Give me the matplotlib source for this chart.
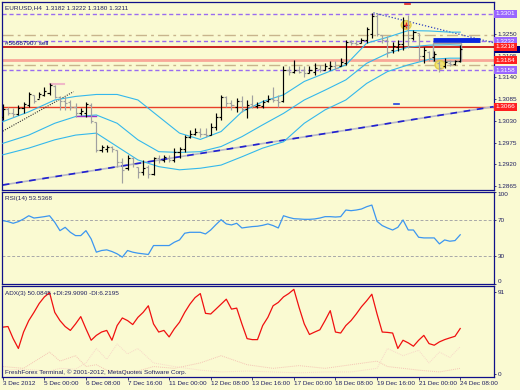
import matplotlib
matplotlib.use("Agg")
import matplotlib.pyplot as plt
from matplotlib.patches import Rectangle, Ellipse

plt.rcParams['font.family'] = ['Liberation Sans', 'DejaVu Sans']

# ---- data (EURUSD H4, 3 Dec 16:00 .. 24 Dec 08:00) ----
bar_open = [1.3040, 1.3060, 1.3050, 1.3048, 1.3062, 1.3070, 1.3095, 1.3085, 1.3096, 1.3100,
            1.3118, 1.3090, 1.3080, 1.3078, 1.3065, 1.3050, 1.3050, 1.3070, 1.3028, 1.2955,
            1.2960, 1.2965, 1.2955, 1.2925, 1.2910, 1.2935, 1.2912, 1.2900, 1.2912, 1.2895,
            1.2935, 1.2930, 1.2935, 1.2932, 1.2950, 1.2958, 1.2990, 1.2998, 1.3002, 1.2998,
            1.2995, 1.3015, 1.3040, 1.3090, 1.3075, 1.3065, 1.3080, 1.3060, 1.3072, 1.3068,
            1.3068, 1.3080, 1.3085, 1.3082, 1.3080, 1.3160, 1.3155, 1.3158, 1.3158, 1.3152,
            1.3155, 1.3162, 1.3160, 1.3165, 1.3170, 1.3168, 1.3178, 1.3230, 1.3228, 1.3228,
            1.3235, 1.3250, 1.3295, 1.3248, 1.3235, 1.3210, 1.3218, 1.3225, 1.3270, 1.3240,
            1.3252, 1.3195, 1.3205, 1.3192, 1.3178, 1.3168, 1.3178, 1.3175, 1.3182]
bar_high = [1.3073, 1.3066, 1.3062, 1.3070, 1.3079, 1.3104, 1.3096, 1.3104, 1.3115, 1.3125,
            1.3121, 1.3092, 1.3092, 1.3083, 1.3075, 1.3062, 1.3079, 1.3075, 1.3028, 1.2969,
            1.2969, 1.2967, 1.2956, 1.2935, 1.2944, 1.2939, 1.2914, 1.2931, 1.2918, 1.2939,
            1.2944, 1.2944, 1.2944, 1.2961, 1.2965, 1.2994, 1.3007, 1.3011, 1.3011, 1.3011,
            1.3024, 1.3049, 1.3096, 1.3092, 1.3083, 1.3087, 1.3092, 1.3083, 1.3096, 1.3079,
            1.3083, 1.3096, 1.3117, 1.3096, 1.3168, 1.3168, 1.3185, 1.3168, 1.3168, 1.3168,
            1.3176, 1.3172, 1.3176, 1.3181, 1.3181, 1.3189, 1.3235, 1.3235, 1.3235, 1.3239,
            1.3269, 1.3304, 1.3304, 1.3248, 1.3244, 1.3231, 1.3235, 1.3294, 1.3298, 1.3260,
            1.3252, 1.3218, 1.3206, 1.3206, 1.3181, 1.3189, 1.3185, 1.3185, 1.3222]
bar_low = [1.3032, 1.3045, 1.3041, 1.3045, 1.3049, 1.3066, 1.3075, 1.3087, 1.3092, 1.3096,
           1.3087, 1.3058, 1.3058, 1.3058, 1.3041, 1.3045, 1.3041, 1.3024, 1.2952, 1.2952,
           1.2952, 1.2952, 1.2914, 1.2872, 1.2906, 1.2914, 1.2885, 1.2893, 1.2885, 1.2893,
           1.2923, 1.2927, 1.2927, 1.2927, 1.2935, 1.2952, 1.2986, 1.2994, 1.2990, 1.2990,
           1.2994, 1.3007, 1.3032, 1.3066, 1.3058, 1.3053, 1.3053, 1.3037, 1.3062, 1.3062,
           1.3062, 1.3079, 1.3079, 1.3066, 1.3079, 1.3146, 1.3151, 1.3151, 1.3142, 1.3151,
           1.3146, 1.3155, 1.3159, 1.3159, 1.3159, 1.3168, 1.3172, 1.3222, 1.3222, 1.3227,
           1.3227, 1.3239, 1.3244, 1.3227, 1.3193, 1.3201, 1.3206, 1.3210, 1.3214, 1.3235,
           1.3181, 1.3176, 1.3181, 1.3181, 1.3155, 1.3163, 1.3168, 1.3172, 1.3180]
bar_close = [1.3060, 1.3050, 1.3048, 1.3062, 1.3072, 1.3098, 1.3080, 1.3098, 1.3105, 1.3120,
             1.3090, 1.3080, 1.3075, 1.3065, 1.3050, 1.3055, 1.3072, 1.3030, 1.2955, 1.2965,
             1.2965, 1.2960, 1.2925, 1.2905, 1.2935, 1.2920, 1.2900, 1.2910, 1.2895, 1.2935,
             1.2930, 1.2938, 1.2932, 1.2950, 1.2960, 1.2990, 1.2998, 1.3002, 1.2998, 1.2995,
             1.3015, 1.3040, 1.3090, 1.3075, 1.3070, 1.3080, 1.3060, 1.3070, 1.3068, 1.3070,
             1.3078, 1.3085, 1.3082, 1.3078, 1.3160, 1.3155, 1.3158, 1.3155, 1.3152, 1.3158,
             1.3165, 1.3160, 1.3168, 1.3170, 1.3165, 1.3180, 1.3230, 1.3228, 1.3225, 1.3235,
             1.3262, 1.3295, 1.3250, 1.3235, 1.3205, 1.3220, 1.3225, 1.3270, 1.3240, 1.3255,
             1.3195, 1.3210, 1.3190, 1.3200, 1.3165, 1.3180, 1.3175, 1.3182, 1.3211]

# bollinger-style bands, read at a few bars
bb_bars = [0, 5, 10, 14, 18, 22, 26, 30, 34, 38, 42, 46, 50, 54, 58, 62, 66, 70, 74, 78, 82, 86, 88]
bb_upper = [1.3028, 1.3053, 1.3083, 1.3092, 1.3097, 1.3097, 1.3083, 1.3041, 1.2999, 1.2983, 1.3003, 1.3053,
            1.3079, 1.3096, 1.3130, 1.3151, 1.3172, 1.3227, 1.3242, 1.3259, 1.3258, 1.3255, 1.3255]
bb_mid = [1.2973, 1.2994, 1.3024, 1.3041, 1.3045, 1.3024, 1.2982, 1.2952, 1.2950, 1.2952, 1.2965, 1.2990,
          1.3020, 1.3049, 1.3083, 1.3108, 1.3134, 1.3176, 1.3201, 1.3217, 1.3222, 1.3223, 1.3222]
bb_lower = [1.2944, 1.2961, 1.2982, 1.2994, 1.2999, 1.2965, 1.2931, 1.2914, 1.2906, 1.2910, 1.2918, 1.2939,
            1.2961, 1.2977, 1.3024, 1.3058, 1.3083, 1.3125, 1.3155, 1.3172, 1.3186, 1.3189, 1.3189]

rsi = [68.9, 67.8, 66.0, 67.8, 70.7, 74.2, 71.7, 72.4, 73.2, 74.2, 67.1, 58.0, 61.6, 56.2, 52.6,
       52.6, 58.0, 49.0, 34.6, 36.4, 37.1, 35.3, 32.8, 29.2, 36.4, 34.6, 33.5, 32.8, 32.1, 41.8,
       41.8, 41.8, 41.8, 45.4, 47.9, 55.2, 56.2, 56.2, 56.2, 54.4, 58.7, 64.5, 69.9, 65.3, 64.2,
       66.0, 60.9, 61.7, 62.4, 62.8, 63.8, 65.3, 63.5, 60.9, 74.2, 72.4, 71.0, 70.7, 70.3, 70.3,
       70.7, 71.7, 73.2, 73.2, 72.8, 73.2, 80.4, 79.7, 80.4, 81.5, 84.0, 85.8, 68.1, 63.5, 60.9,
       58.7, 61.6, 69.6, 58.7, 58.7, 50.8, 50.1, 50.1, 50.1, 43.6, 47.9, 46.5, 47.2, 53.5]

adx = [51.6, 52.3, 38.9, 28.0, 46.2, 58.9, 68.0, 77.8, 85.1, 89.8, 68.0, 58.9, 52.3, 48.0, 55.2,
       63.3, 49.8, 37.1, 42.5, 46.2, 48.0, 37.1, 53.4, 61.8, 58.9, 54.5, 62.5, 68.0, 75.3, 55.2,
       46.2, 48.0, 40.8, 49.8, 57.1, 68.0, 77.1, 84.4, 88.8, 66.9, 66.2, 71.6, 77.1, 82.6, 71.6,
       72.7, 55.2, 38.9, 37.8, 37.8, 53.4, 62.5, 75.3, 79.0, 85.1, 88.8, 93.5, 73.5, 55.2, 43.5,
       46.2, 48.7, 58.9, 69.9, 46.2, 45.1, 53.4, 58.9, 66.2, 74.2, 80.8, 88.1, 66.2, 46.2, 45.8,
       45.1, 28.0, 37.1, 34.2, 30.5, 37.1, 42.5, 33.4, 31.6, 35.3, 37.8, 39.7, 41.5, 50.1]
di_bars = [0, 4, 9, 11, 14, 16, 18, 20, 22, 24, 26, 29, 33, 38, 42, 47, 52, 57, 62, 67, 72, 74, 77, 80, 82, 84, 86, 88]
di_plus = [8, 6, 24, 14, 20, 8, 10, 4, 3, 2, 3, 8, 6, 12, 20, 10, 6, 9, 6, 10, 14, 8, 6, 4, 3, 2, 4, 6]
di_minus = [4, 5, 3, 6, 5, 12, 28, 16, 33, 22, 28, 12, 8, 4, 2, 3, 2, 1, 2, 2, 6, 28, 20, 26, 12, 24, 18, 30]

date_ticks = [0, 8, 16, 24, 32, 40, 48, 56, 64, 72, 80, 88]
date_labels = ['3 Dec 2012', '5 Dec 00:00', '6 Dec 08:00', '7 Dec 16:00', '11 Dec 00:00', '12 Dec 08:00',
               '13 Dec 16:00', '17 Dec 00:00', '18 Dec 08:00', '19 Dec 16:00', '21 Dec 00:00', '24 Dec 08:00']
price_ticks = [1.3250, 1.3195, 1.3140, 1.3085, 1.3030, 1.2975, 1.2920, 1.2865]

# horizontal levels (price, colour, style, width)
levels = [(1.3301, '#9a6cf0', (0, (3, 2)), 1.0),
          (1.3248, '#c8b48c', (0, (8, 3, 2, 3)), 1.0),
          (1.3232, '#9a6cf0', (0, (3, 2)), 1.0),
          (1.3218, '#c00000', '-', 1.2),
          (1.3184, '#f8a898', '-', 2.0),
          (1.3172, '#c8b48c', (0, (8, 3, 2, 3)), 1.0),
          (1.3158, '#9a6cf0', (0, (3, 2)), 1.0),
          (1.3066, '#e8402a', '-', 1.0)]
price_boxes = [(1.3301, '#9966ff'), (1.3232, '#9966ff'),
               (1.3218, '#ff2020'), (1.3184, '#ff2020'), (1.3158, '#9966ff'), (1.3066, '#ff2020')]
bid_price = 1.3211

bg = '#fafad2'
navy = '#10108a'
txt = '#202060'
fs = 4.6

fig = plt.figure(figsize=(5.2, 3.9), dpi=100, facecolor=bg)
ax = fig.add_axes([2 / 520, 1 - 190 / 390, 492 / 520, 188 / 390], facecolor=bg)
ax_rsi = fig.add_axes([2 / 520, 1 - 284 / 390, 492 / 520, 92 / 390], facecolor=bg, sharex=ax)
ax_adx = fig.add_axes([2 / 520, 1 - 377 / 390, 492 / 520, 91 / 390], facecolor=bg, sharex=ax)

for a in (ax, ax_rsi, ax_adx):
    for s in a.spines.values():
        s.set_color(navy)
        s.set_linewidth(0.9)
    a.yaxis.tick_right()
    a.tick_params(axis='both', length=1.5, width=0.6, colors=txt, labelsize=fs, pad=1)
    a.tick_params(axis='x', bottom=False, labelbottom=False)

ax.set_xlim(-0.15, 94.5)
ax.set_ylim(1.28548, 1.33314)

# levels
for p, c, ls, lw in levels:
    ax.axhline(p, color=c, linestyle=ls, linewidth=lw, zorder=1)

# trend lines
ax.plot([0, 94.4], [1.28675, 1.3066], color='#b8b8c8', lw=1.2, zorder=2)
ax.plot([0, 94.4], [1.28675, 1.3066], color='#2020d0', lw=1.2, linestyle=(0, (4, 4)), zorder=2)
ax.plot([71.3, 94.4], [1.3304, 1.3228], color='#3040c0', lw=0.9, linestyle=(0, (1, 1.5)), zorder=2)
ax.plot([0, 13.6], [1.3004, 1.3104], color='#303030', lw=0.8, linestyle=(0, (1, 1.2)), zorder=2)

# bands
for band in (bb_upper, bb_mid, bb_lower):
    ax.plot(bb_bars, band, color='#34b8ec', lw=0.8, zorder=3)

# small objects
ax.plot([9.1, 11.7], [1.3124, 1.3124], color='#f0b8c8', lw=1.5, zorder=3)
ax.plot([14.1, 17.9], [1.3042, 1.3042], color='#9933cc', lw=1.0, zorder=3)
ax.plot([82.8, 91.8], [1.3236, 1.3236], color='#0a28e0', lw=3.5, solid_capstyle='butt', zorder=4)
ax.plot([75.3, 76.3], [1.3073, 1.3073], color='#2040e0', lw=1.2, zorder=4)
ax.plot([77.3, 78.3], [1.3326, 1.3326], color='#e02020', lw=1.2, zorder=4)
ax.add_patch(Rectangle((82.8, 1.3181), 5.3, 1.3227 - 1.3181, fill=False, ec='#a0a0a0', lw=1.0, zorder=4))
for cx, cy in [(77.6, 1.3273), (84.1, 1.3172)]:
    ax.add_patch(Ellipse((cx, cy), 1.9, 0.0022, fc='#f0e060', ec='#e0c840', alpha=0.85, zorder=5))
ax.plot([77.6], [1.3273], marker='+', color='#e02020', ms=4, mew=1, zorder=6)

# OHLC bars
for i in range(len(bar_close)):
    col = '#000000' if bar_close[i] >= bar_open[i] else '#a0a0a0'
    ax.vlines(i, bar_low[i], bar_high[i], color=col, lw=0.85, zorder=6)
    ax.hlines(bar_open[i], i - 0.4, i, color=col, lw=0.85, zorder=6)
    ax.hlines(bar_close[i], i, i + 0.4, color=col, lw=0.85, zorder=6)

ax.set_yticks(price_ticks)
ax.set_yticklabels([f'{p:.4f}' for p in price_ticks])

# bid marker on the price scale, partly hidden behind the level boxes
ax.add_patch(Rectangle((1.002, bid_price - 0.00085), 0.05, 0.0017, transform=ax.get_yaxis_transform(),
                       fc='#000080', ec='none', clip_on=False, zorder=9))
for p, c in price_boxes:
    ax.text(1.004, p, f'{p:.4f}', transform=ax.get_yaxis_transform(), fontsize=fs, color='white',
            va='center', ha='left', zorder=10, clip_on=False,
            bbox=dict(boxstyle='square,pad=0.25', fc=c, ec='none'))

ax.text(0.006, 0.985, 'EURUSD,H4  1.3182 1.3222 1.3180 1.3211', transform=ax.transAxes,
        fontsize=fs, color=txt, va='top', ha='left')
ax.text(0.006, 1.3221, '#56687907 sell', transform=ax.get_yaxis_transform(),
        fontsize=fs, color='#000080', va='bottom', ha='left')

# RSI panel
bars = list(range(len(rsi)))
ax_rsi.set_ylim(0, 100)
ax_rsi.axhline(70, color='#a8a8a8', lw=0.7, linestyle=(0, (3, 2)))
ax_rsi.axhline(30, color='#a8a8a8', lw=0.7, linestyle=(0, (3, 2)))
ax_rsi.plot(bars, rsi, color='#3c96f0', lw=0.9)
ax_rsi.set_yticks([100, 70, 30, 0])
ax_rsi.set_yticklabels(['100', '70', '30', '0'])
ax_rsi.get_yticklabels()[0].set_va('top')
ax_rsi.get_yticklabels()[-1].set_va('bottom')
ax_rsi.text(0.006, 0.96, 'RSI(14) 53.5368', transform=ax_rsi.transAxes, fontsize=fs, color=txt,
            va='top', ha='left')

# ADX panel
ax_adx.set_ylim(-3.6, 97.2)
ax_adx.plot(di_bars, di_plus, color='#f4c4b4', lw=0.7, linestyle=(0, (1, 1)))
ax_adx.plot(di_bars, di_minus, color='#f8d8c8', lw=0.7, linestyle=(0, (1, 1)))
ax_adx.plot(bars, adx, color='#f01010', lw=0.9)
ax_adx.set_yticks([91, 0])
ax_adx.set_yticklabels(['91', '0'])
ax_adx.text(0.006, 0.95, 'ADX(3) 50.0845 +DI:29.9090 -DI:6.2195', transform=ax_adx.transAxes,
            fontsize=fs, color=txt, va='top', ha='left')
ax_adx.text(0.006, 0.02, 'FreshForex Terminal, \u00a9 2001-2012, MetaQuotes Software Corp.',
            transform=ax_adx.transAxes, fontsize=fs, color=txt, va='bottom', ha='left')

ax_adx.tick_params(axis='x', bottom=True, labelbottom=True, length=2)
ax_adx.set_xticks(date_ticks)
ax_adx.set_xticklabels(date_labels)
for lab in ax_adx.get_xticklabels():
    lab.set_ha('left')

fig.savefig('out.png', dpi=100, facecolor=bg)
